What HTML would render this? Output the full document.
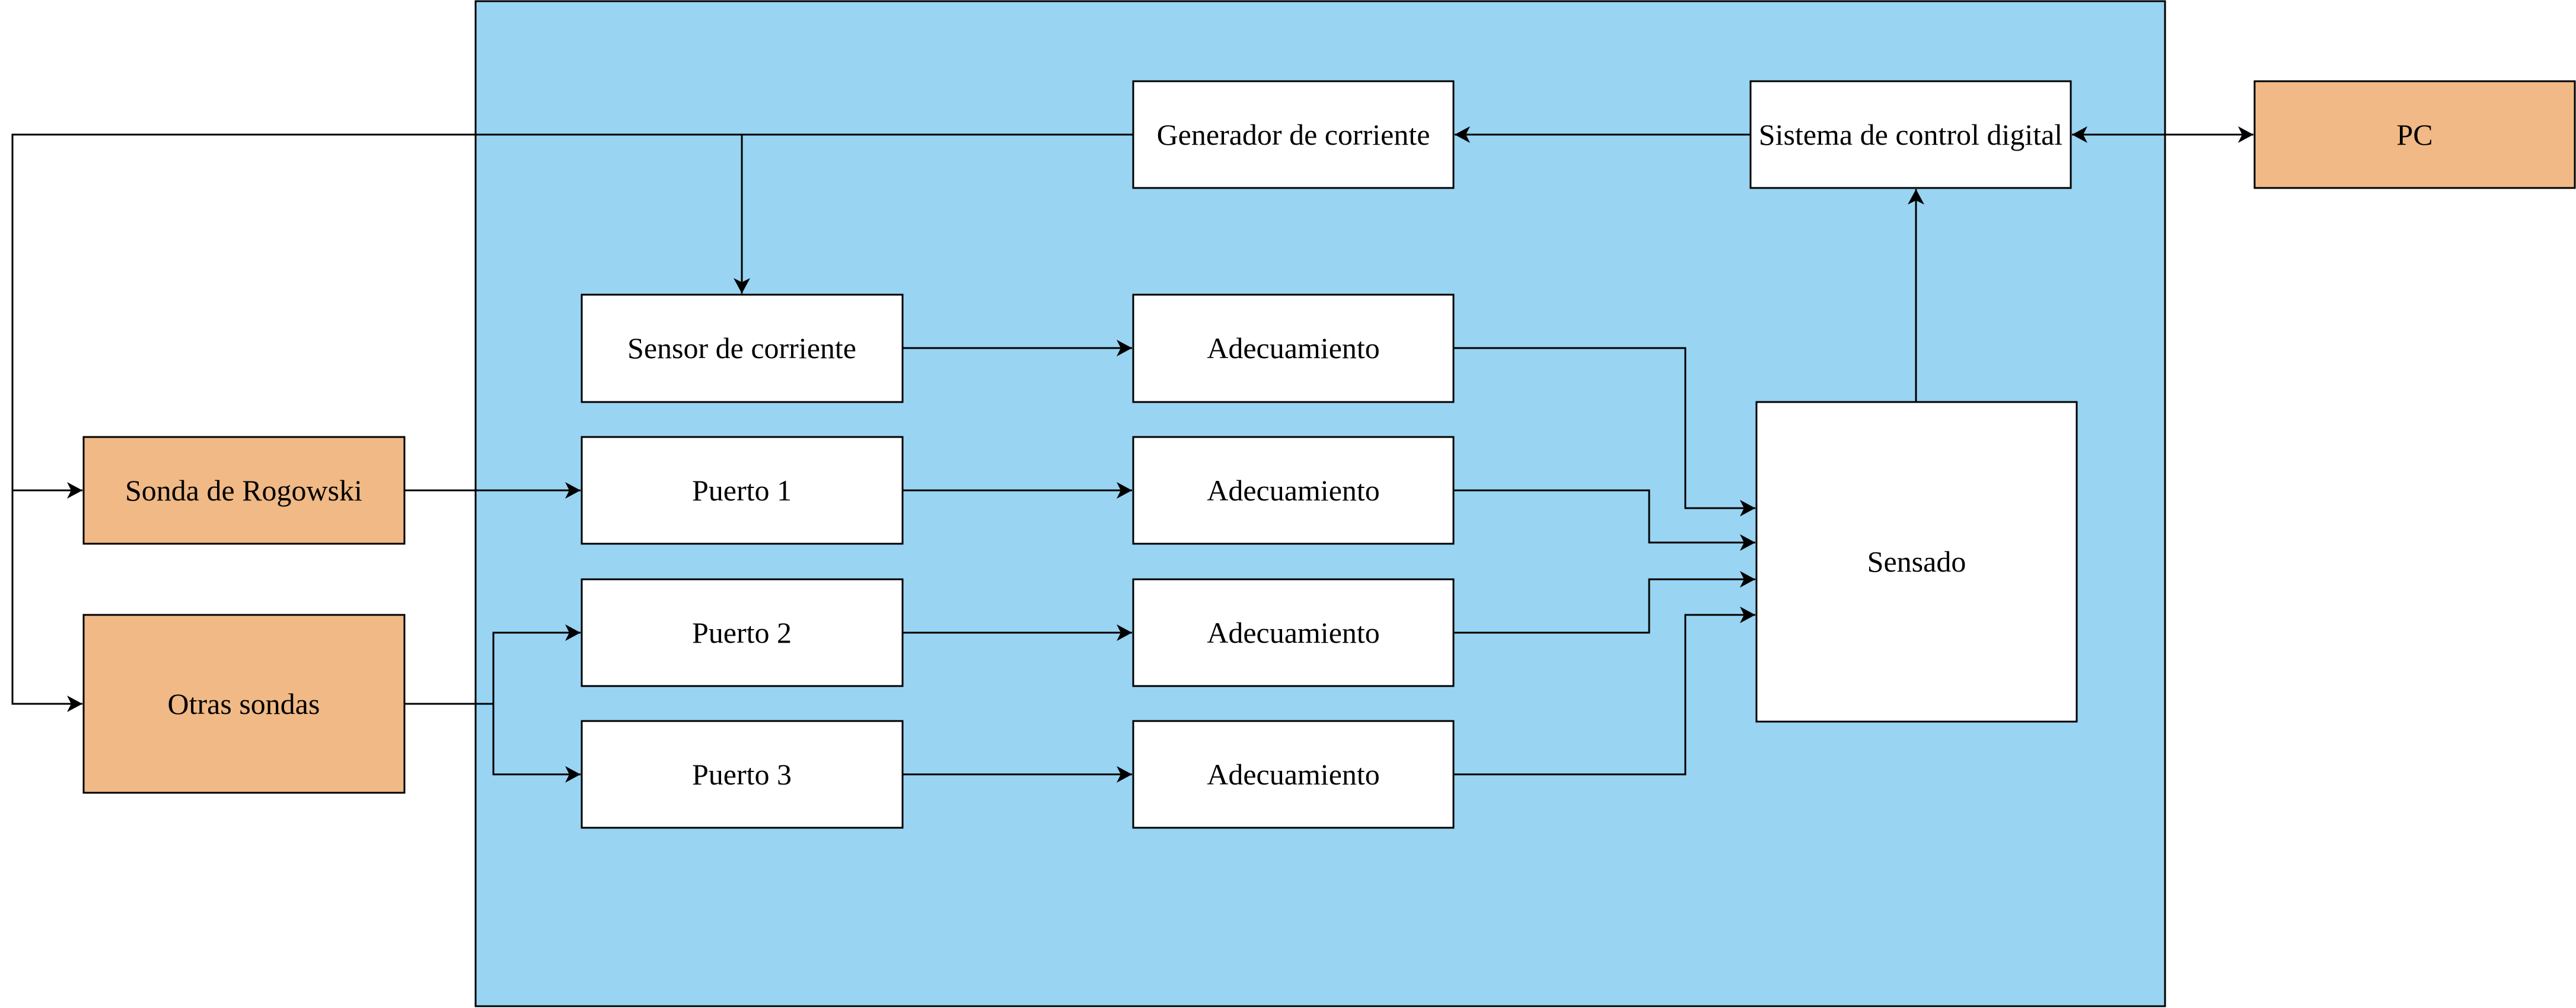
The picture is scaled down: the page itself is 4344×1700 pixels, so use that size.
<!DOCTYPE html>
<html><head><meta charset="utf-8"><style>
html,body{margin:0;padding:0;background:#fff;}
svg{display:block;}
text{font-family:"Liberation Serif",serif;font-size:50px;fill:#000;}
</style></head><body>
<svg width="4344" height="1700" viewBox="0 0 4344 1700" xmlns="http://www.w3.org/2000/svg">
<defs>
<marker id="a" markerUnits="userSpaceOnUse" markerWidth="30" markerHeight="30" refX="26" refY="14" orient="auto">
<path d="M26,14 L0,0 L7,14 L0,28 Z" fill="#000"/>
</marker>
<marker id="as" markerUnits="userSpaceOnUse" markerWidth="30" markerHeight="30" refX="26" refY="14" orient="auto-start-reverse">
<path d="M26,14 L0,0 L7,14 L0,28 Z" fill="#000"/>
</marker>
</defs>
<rect x="802" y="2" width="2849" height="1695" fill="#99d4f2" stroke="#000" stroke-width="3"/>
<g fill="#fff" stroke="#000" stroke-width="3">
<rect x="1911" y="137" width="540" height="180"/>
<rect x="2952" y="137" width="540" height="180"/>
<rect x="981" y="497" width="541" height="181"/>
<rect x="981" y="737" width="541" height="180"/>
<rect x="981" y="977" width="541" height="180"/>
<rect x="981" y="1216" width="541" height="180"/>
<rect x="1911" y="497" width="540" height="181"/>
<rect x="1911" y="737" width="540" height="180"/>
<rect x="1911" y="977" width="540" height="180"/>
<rect x="1911" y="1216" width="540" height="180"/>
<rect x="2962" y="678" width="540" height="539"/>
</g>
<g fill="#f0b985" stroke="#000" stroke-width="3">
<rect x="3802" y="137" width="540" height="180"/>
<rect x="141" y="737" width="541" height="180"/>
<rect x="141" y="1037" width="541" height="300"/>
</g>
<g fill="none" stroke="#000" stroke-width="3">
<path d="M1911,227 H21 V827 H139" marker-end="url(#a)"/>
<path d="M21,827 V1187 H139" marker-end="url(#a)"/>
<path d="M1251,227 V495" marker-end="url(#a)"/>
<path d="M2952,227 H2453" marker-end="url(#a)"/>
<path d="M3494,227 H3800" marker-start="url(#as)" marker-end="url(#a)"/>
<path d="M3231,678 V319" marker-end="url(#a)"/>
<path d="M682,827 H979" marker-end="url(#a)"/>
<path d="M682,1187 H832 V1067 H979" marker-end="url(#a)"/>
<path d="M832,1187 V1306 H979" marker-end="url(#a)"/>
<path d="M1522,587 H1909" marker-end="url(#a)"/>
<path d="M1522,827 H1909" marker-end="url(#a)"/>
<path d="M1522,1067 H1909" marker-end="url(#a)"/>
<path d="M1522,1306 H1909" marker-end="url(#a)"/>
<path d="M2451,587 H2842 V857 H2960" marker-end="url(#a)"/>
<path d="M2451,827 H2781 V915 H2960" marker-end="url(#a)"/>
<path d="M2451,1067 H2781 V977 H2960" marker-end="url(#a)"/>
<path d="M2451,1306 H2842 V1037 H2960" marker-end="url(#a)"/>
</g>
<g text-anchor="middle" dominant-baseline="central">
<text x="2181" y="227">Generador de corriente</text>
<text x="3222" y="227">Sistema de control digital</text>
<text x="4072" y="227">PC</text>
<text x="1251" y="587">Sensor de corriente</text>
<text x="1251" y="827">Puerto 1</text>
<text x="1251" y="1067">Puerto 2</text>
<text x="1251" y="1306">Puerto 3</text>
<text x="2181" y="587">Adecuamiento</text>
<text x="2181" y="827">Adecuamiento</text>
<text x="2181" y="1067">Adecuamiento</text>
<text x="2181" y="1306">Adecuamiento</text>
<text x="3232" y="947">Sensado</text>
<text x="411" y="827">Sonda de Rogowski</text>
<text x="411" y="1187">Otras sondas</text>
</g>
</svg>
</body></html>
